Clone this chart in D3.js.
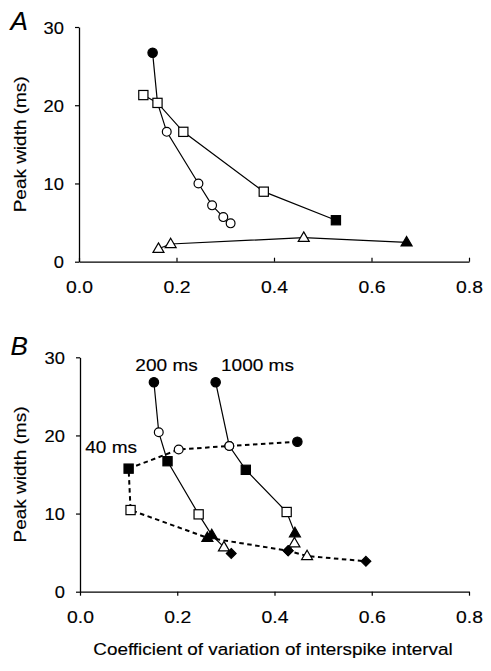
<!DOCTYPE html>
<html>
<head>
<meta charset="utf-8">
<script src="https://cdn.jsdelivr.net/npm/d3@7"></script>
<style>
  html, body { margin: 0; padding: 0; background: #fff; }
  svg { display: block; }
  text { font-family: "Liberation Sans", Arial, Helvetica, sans-serif; fill: #000; stroke: #000; stroke-width: 0.15px; }
</style>
</head>
<body>
<svg id="chart" width="491" height="671"></svg>
<script>
// ---------- data ----------
const xTicks = [0.0, 0.2, 0.4, 0.6, 0.8];
const yTicks = [0, 10, 20, 30];
const xTitle = "Coefficient of variation of interspike interval";
const yTitle = "Peak width (ms)";

// Panel A
const aCircX = [0.151, 0.161, 0.180, 0.245, 0.273, 0.296, 0.311];
const aCircY = [26.7, 20.3, 16.6, 10.0, 7.2, 5.7, 4.9];
const aCircM = ["cf", "none", "co", "co", "co", "co", "co"];
const aSqX = [0.132, 0.161, 0.214, 0.379, 0.527];
const aSqY = [21.3, 20.3, 16.6, 8.95, 5.3];
const aSqM = ["so", "so", "so", "so", "sf"];
const aTriX = [0.163, 0.188, 0.461, 0.672];
const aTriY = [1.66, 2.26, 3.07, 2.48];
const aTriM = ["to", "to", "to", "tf"];

// Panel B
const b200X = [0.152, 0.162, 0.180, 0.244, 0.271, 0.296, 0.311];
const b200Y = [26.8, 20.4, 16.7, 9.9, 7.25, 5.7, 4.9];
const b200M = ["cf", "co", "sf", "so", "tf", "to", "df"];
const b1000X = [0.279, 0.307, 0.341, 0.425, 0.442, 0.441, 0.428];
const b1000Y = [26.8, 18.65, 15.6, 10.2, 7.5, 6.2, 5.25];
const b1000M = ["cf", "co", "sf", "so", "tf", "to", "df"];
const b40X = [0.447, 0.307, 0.203, 0.100, 0.104, 0.262, 0.428, 0.467, 0.588];
const b40Y = [19.2, 18.65, 18.2, 15.75, 10.45, 6.9, 5.25, 4.57, 3.89];
const b40M = ["cf", "co", "co", "sf", "so", "tf", "df", "to", "df"];
const bLabels = ["200 ms", "1000 ms", "40 ms"];
const bLabelAt = [[0.178, 28.3], [0.365, 28.3], [0.064, 17.7]]; // data coords of label centre/baseline

// ---------- drawing ----------
const svg = d3.select("#chart");
const SX = 1.12; // wide Helvetica look

function zip(xs, ys, ms) { return xs.map((x, i) => ({ x, y: ys[i], m: ms[i] })); }

function txt(g, x, y, str, size, anchor, rotate, sx) {
  g.append("text")
    .attr("transform", `translate(${x},${y})` + (rotate ? ` rotate(${rotate})` : "") + ` scale(${sx || SX},1)`)
    .attr("text-anchor", anchor || "middle")
    .style("font-size", size + "px")
    .text(str);
}

function panel(cfg) {
  const g = svg.append("g");
  const x = d3.scaleLinear().domain([0, 0.8]).range([cfg.x0, cfg.x1]);
  const y = d3.scaleLinear().domain([0, 30]).range([cfg.y0, cfg.y1]);

  // axes
  const ax = g.append("g").attr("transform", `translate(0,${cfg.y0})`)
    .call(d3.axisBottom(x).tickValues(xTicks).tickFormat(d3.format(".1f")).tickSizeInner(cfg.xTick).tickSizeOuter(0));
  ax.select(".domain").attr("stroke-width", 1.3);
  ax.selectAll(".tick line").attr("stroke-width", 1.2);
  ax.selectAll(".tick text").attr("y", null).attr("dy", null)
    .attr("transform", `translate(0,31) scale(1.14,1)`)
    .style("font-size", "17px");
  ax.attr("font-family", null).attr("font-size", null);

  const ay = g.append("g").attr("transform", `translate(${cfg.x0},0)`)
    .call(d3.axisLeft(y).tickValues(yTicks).tickSizeInner(4).tickSizeOuter(0));
  ay.select(".domain").attr("stroke-width", 1.3);
  ay.selectAll(".tick line").attr("stroke-width", 1.2);
  ay.selectAll(".tick text").attr("x", null).attr("dy", "0.36em")
    .attr("transform", `translate(-15,0) scale(1.08,1)`)
    .style("font-size", "17px");
  ay.attr("font-family", null).attr("font-size", null);

  // y title + panel letter
  txt(g, 25.5, (cfg.y0 + cfg.y1) / 2, yTitle, 16.5, "middle", -90, 1.15);
  g.append("text").attr("x", 10.5).attr("y", cfg.letterY)
    .style("font-size", "26px").style("font-style", "italic").text(cfg.letter);

  const line = d3.line().x(d => x(d.x)).y(d => y(d.y));
  cfg.series.forEach(s => {
    g.append("path").datum(s.pts).attr("d", line)
      .attr("fill", "none").attr("stroke", "#000")
      .attr("stroke-width", s.dashed ? 2 : 1.2)
      .attr("stroke-dasharray", s.dashed ? "4.5,3.5" : null);
  });
  cfg.series.forEach(s => {
    s.pts.forEach(p => marker(g, x(p.x), y(p.y), p.m));
  });
  return { g, x, y };
}

function marker(g, cx, cy, m) {
  if (!m || m === "none") return;
  const filled = m[1] === "f";
  const fill = filled ? "#000" : "#fff";
  const sw = 1.2;
  if (m[0] === "c") {
    g.append("circle").attr("cx", cx).attr("cy", cy).attr("r", filled ? 4.7 : 4.4)
      .attr("fill", fill).attr("stroke", "#000").attr("stroke-width", sw);
  } else if (m[0] === "s") {
    const h = 4.6;
    g.append("rect").attr("x", cx - h).attr("y", cy - h).attr("width", 2 * h).attr("height", 2 * h)
      .attr("fill", fill).attr("stroke", "#000").attr("stroke-width", sw);
  } else if (m[0] === "t") {
    const w = 5.5, hu = 5.8, hd = 3.7;
    g.append("path").attr("d", `M${cx},${cy - hu}L${cx + w},${cy + hd}L${cx - w},${cy + hd}Z`)
      .attr("fill", fill).attr("stroke", "#000").attr("stroke-width", sw).attr("stroke-linejoin", "miter");
  } else if (m[0] === "d") {
    const r = 4.9;
    g.append("path").attr("d", `M${cx},${cy - r}L${cx + r},${cy}L${cx},${cy + r}L${cx - r},${cy}Z`)
      .attr("fill", fill).attr("stroke", "#000").attr("stroke-width", sw);
  }
}

// Panel A
panel({
  x0: 79, x1: 469, y0: 261.7, y1: 27, xTick: -4, letter: "A", letterY: 29.5,
  series: [
    { pts: zip(aCircX, aCircY, aCircM) },
    { pts: zip(aSqX, aSqY, aSqM) },
    { pts: zip(aTriX, aTriY, aTriM) }
  ]
});

// Panel B
const pB = panel({
  x0: 80, x1: 469, y0: 591.7, y1: 357.3, xTick: 4, letter: "B", letterY: 355,
  series: [
    { pts: zip(b200X, b200Y, b200M) },
    { pts: zip(b1000X, b1000Y, b1000M) },
    { pts: zip(b40X, b40Y, b40M), dashed: true }
  ]
});
bLabels.forEach((t, i) => {
  txt(pB.g, pB.x(bLabelAt[i][0]), pB.y(bLabelAt[i][1]), t, 17, "middle", null, 1.12);
});

// x title
txt(svg, 273, 655, xTitle, 16, "middle", null, 1.18);
</script>
</body>
</html>
